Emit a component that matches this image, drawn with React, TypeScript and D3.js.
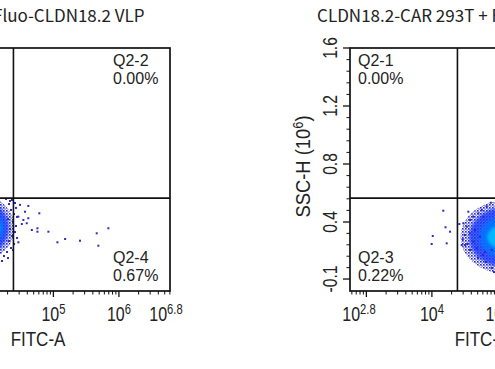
import React from 'react';
import * as d3 from 'd3';

// panel titles (left panel is cropped on the left side)
const titles = ['293T + Fluo-CLDN18.2 VLP', 'CLDN18.2-CAR 293T + Fluo-CLDN18.2 VLP'];
const titleShift = [3, -2];

// FITC-A, log10 exponents
const xExpDomain = [2.75, 6.78];
const xMajorExp = [3, 4, 5, 6];
const xLabelExp = [2.8, 4, 5, 6, 6.8];

// SSC-H (10^6), the axis is stretched below 0.4
const yDomain = [-0.205, 0.4, 1.6];
const yMajor = [-0.1, 0.4, 0.8, 1.2, 1.6];
const yLabels = ['-0.1', '0.4', '0.8', '1.2', '1.6'];

// quadrant gate
const gateExp = 4.39;
const gateY = 0.565;

// visible quadrant labels per panel
const quadNames = [['Q2-2', 'Q2-4'], ['Q2-1', 'Q2-3']];
const quadPct = [['0.00%', '0.67%'], ['0.00%', '0.22%']];
const quadCorner = [['tr', 'br'], ['tl', 'bl']];

// density of the main population: [x exponent, y, x half-width (decades), y half-height]
const leftDensity = [
  [3.91, 0.323, 0.5, 0.256],
  [3.91, 0.327, 0.41, 0.222],
  [3.91, 0.334, 0.33, 0.16],
  [3.91, 0.34, 0.27, 0.11],
];
const rightDensity = [
  [5.116, 0.248, 0.68, 0.3],
  [5.116, 0.253, 0.55, 0.25],
  [5.116, 0.262, 0.39, 0.18],
  [5.116, 0.268, 0.27, 0.11],
];
const densityColors = ['url(#speck)', '#1438ff', '#0078ff', '#00c4ff'];
const densityOpacity = [1, 0.8, 0.8, 0.85];

// single events: [x exponent, y]
const leftEvents = [
  [4.49, 0.518], [4.617, 0.511], [4.785, 0.46], [4.465, 0.437], [4.567, 0.471],
  [4.617, 0.426], [4.542, 0.414], [4.593, 0.389], [4.518, 0.382], [4.671, 0.33],
  [4.756, 0.345], [4.756, 0.315], [4.924, 0.315], [5.061, 0.222], [5.179, 0.251],
  [5.406, 0.236], [5.661, 0.301], [5.686, 0.192], [5.839, 0.345], [4.465, 0.222],
  [4.368, 0.552], [4.414, 0.531], [4.322, 0.524], [4.429, 0.497], [4.353, 0.483],
  [4.399, 0.455], [4.445, 0.435], [4.307, 0.421], [4.383, 0.4], [4.429, 0.365],
  [4.338, 0.339], [4.414, 0.312], [4.368, 0.277], [4.445, 0.26], [4.322, 0.233],
  [4.399, 0.207], [4.353, 0.172], [4.292, 0.137], [4.383, 0.154], [4.246, 0.102],
  [4.307, 0.084], [4.216, 0.058], [4.277, 0.559], [4.338, 0.545],
];
const rightEvents = [
  [4.174, 0.478], [4.208, 0.354], [4.277, 0.315], [4.013, 0.277], [3.997, 0.207],
  [4.226, 0.213],
  [4.556, 0.471], [4.48, 0.389], [4.419, 0.382], [4.532, 0.359], [4.582, 0.414],
  [4.632, 0.437], [4.709, 0.46], [4.761, 0.483], [4.837, 0.506], [4.898, 0.533],
  [4.785, 0.437], [4.506, 0.286], [4.471, 0.248], [4.455, 0.198], [4.506, 0.198],
  [4.541, 0.207], [4.632, 0.227], [4.582, 0.154], [4.684, 0.169], [4.811, 0.139],
  [4.913, 0.154], [4.658, 0.33], [4.582, 0.301], [4.735, 0.271], [4.704, 0.084],
  [4.826, 0.049], [4.918, -0.004], [4.78, 0.111], [4.948, -0.039],
];

const density = [leftDensity, rightDensity];
const events = [leftEvents, rightEvents];

const W = 495, H = 369;
const PW = 264, TOP = 48, BOTTOM = 291;
const panelX0 = [-94, 350];
const axisFont = 'Liberation Sans, Arial, sans-serif';
const inView = (px: number) => px > -25 && px < W + 15;

function Panel({ idx }: { idx: number }) {
  const x0 = panelX0[idx];
  const x1 = x0 + PW;
  const x = d3.scaleLog().domain(xExpDomain.map(e => Math.pow(10, e))).range([x0, x1]);
  const y = d3.scaleLinear().domain(yDomain).range([BOTTOM, BOTTOM - 69, TOP]);
  const xe = (e: number) => x(Math.pow(10, e));

  const xMinor = d3.range(2, 7)
    .flatMap(d => d3.range(2, 10).map(m => m * Math.pow(10, d)))
    .filter(v => v > Math.pow(10, xExpDomain[0]) && v < Math.pow(10, xExpDomain[1]));
  const yMinor = [
    ...d3.range(0, 0.35, 0.1),
    ...d3.range(0.48, 1.59, 0.08).filter(v => yMajor.every(m => Math.abs(m - v) > 0.01)),
  ];
  const clipId = `clip${idx}`;
  const gx = xe(gateExp);
  const gy = y(gateY);
  const showY = x0 > 40;

  return (
    <g>
      <clipPath id={clipId}>
        <rect x={x0} y={TOP} width={PW} height={BOTTOM - TOP} />
      </clipPath>
      <text x={(x0 + x1) / 2 + titleShift[idx]} y={22} textAnchor="middle"
        fontFamily="Noto Sans CJK SC, Noto Sans, sans-serif" fontSize={17} fill="#222">
        {titles[idx]}
      </text>
      <g clipPath={`url(#${clipId})`}>
        {density[idx].map(([cx, cy, rx, ry], i) => {
          const top = y(cy + ry), bot = y(cy - ry);
          return (
            <ellipse key={i} cx={xe(cx)} cy={(top + bot) / 2}
              rx={xe(cx + rx) - xe(cx)} ry={(bot - top) / 2}
              fill={densityColors[i]} opacity={densityOpacity[i]}
              filter={i === 0 ? undefined : 'url(#soft)'} />
          );
        })}
        {events[idx].map(([ex, ey], i) => (
          <rect key={i} x={xe(ex) - 1} y={y(ey) - 1} width={2} height={2} fill="#2b2bc0" />
        ))}
      </g>
      <line x1={gx} x2={gx} y1={TOP} y2={BOTTOM} stroke="#111" strokeWidth={1.6} />
      <line x1={x0} x2={x1} y1={gy} y2={gy} stroke="#111" strokeWidth={1.6} />
      <rect x={x0} y={TOP} width={PW} height={BOTTOM - TOP} fill="none" stroke="#111" strokeWidth={1.7} />

      {xMajorExp.map(e => (
        <line key={e} x1={xe(e)} x2={xe(e)} y1={BOTTOM} y2={BOTTOM + 6} stroke="#111" strokeWidth={1.3} />
      ))}
      {xMinor.map(v => (
        <line key={v} x1={x(v)} x2={x(v)} y1={BOTTOM} y2={BOTTOM + 3.5} stroke="#111" strokeWidth={1} />
      ))}
      {yMajor.map(v => (
        <line key={v} x1={x0 - 7} x2={x0} y1={y(v)} y2={y(v)} stroke="#111" strokeWidth={1.3} />
      ))}
      {yMinor.map(v => (
        <line key={v} x1={x0 - 3.5} x2={x0} y1={y(v)} y2={y(v)} stroke="#111" strokeWidth={1} />
      ))}

      {xLabelExp.map(e => {
        const lx = Math.max(x0 + 9, Math.min(x1 - 4, xe(e)));
        if (!inView(lx)) return null;
        return (
          <text key={e} transform={`translate(${lx},321) scale(0.8,1)`} textAnchor="middle"
            fontFamily={axisFont} fill="#222">
            <tspan fontSize={20}>10</tspan>
            <tspan fontSize={14} dy={-7}>{e}</tspan>
          </text>
        );
      })}
      {showY && yMajor.map((v, i) => (
        <text key={v} transform={`translate(${x0 - 13},${y(v)}) rotate(-90) scale(0.78,1)`}
          textAnchor="middle" fontFamily={axisFont} fontSize={20} fill="#222">
          {yLabels[i]}
        </text>
      ))}
      <text transform={`translate(${(x0 + x1) / 2},346) scale(0.85,1)`} textAnchor="middle"
        fontFamily={axisFont} fontSize={20} fill="#222">FITC-A</text>
      {showY && (
        <text transform={`translate(${x0 - 40},${(TOP + BOTTOM) / 2 - 3}) rotate(-90) scale(0.92,1)`}
          textAnchor="middle" fontFamily={axisFont} fontSize={20} fill="#222">
          <tspan>SSC-H (10</tspan>
          <tspan fontSize={14} dy={-7}>6</tspan>
          <tspan dy={7}>)</tspan>
        </text>
      )}

      {quadNames[idx].map((name, i) => {
        const c = quadCorner[idx][i];
        const qx = c.endsWith('l') ? x0 + 8 : x1 - 57;
        const qy = c.startsWith('t') ? TOP + 18 : BOTTOM - 28;
        return (
          <text key={name} x={qx} y={qy} fontFamily={axisFont} fontSize={16} fill="#222">
            <tspan x={qx}>{name}</tspan>
            <tspan x={qx} dy={18}>{quadPct[idx][i]}</tspan>
          </text>
        );
      })}
    </g>
  );
}

export default function App() {
  return (
    <svg width={W} height={H} style={{ position: 'absolute', left: 0, top: 0, background: '#fff' }}>
      <defs>
        <filter id="soft" x="-20%" y="-20%" width="140%" height="140%">
          <feGaussianBlur stdDeviation={1.4} />
        </filter>
        <pattern id="speck" width={3} height={3} patternUnits="userSpaceOnUse">
          <rect width={1.6} height={1.6} fill="#2626c8" />
          <rect x={1.5} y={1.5} width={1.2} height={1.2} fill="#3a3ae0" />
        </pattern>
      </defs>
      <rect width={W} height={H} fill="#fff" />
      <Panel idx={0} />
      <Panel idx={1} />
    </svg>
  );
}
